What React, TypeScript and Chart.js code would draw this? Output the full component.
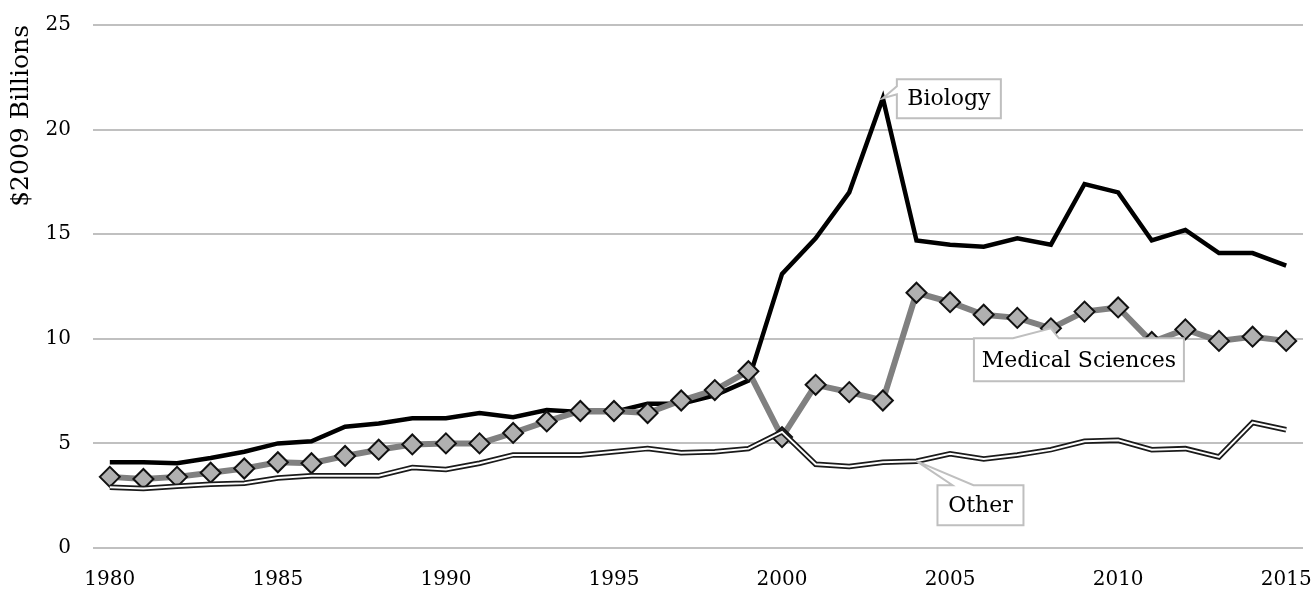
import React, { useEffect, useRef } from "react";
import { Chart, registerables } from "chart.js";

Chart.register(...registerables);

const years: number[] = [];
for (let y = 1980; y <= 2015; y++) years.push(y);

const biology = [
  4.1, 4.1, 4.05, 4.3, 4.6, 5.0, 5.1, 5.8, 5.95, 6.2,
  6.2, 6.45, 6.25, 6.6, 6.5, 6.5, 6.9, 6.9, 7.3, 8.0,
  13.1, 14.8, 17.0, 21.5, 14.7, 14.5, 14.4, 14.8, 14.5, 17.4,
  17.0, 14.7, 15.2, 14.1, 14.1, 13.5,
];

const medical = [
  3.4, 3.3, 3.4, 3.6, 3.8, 4.1, 4.05, 4.4, 4.7, 4.95,
  5.0, 5.0, 5.5, 6.05, 6.55, 6.55, 6.45, 7.05, 7.55, 8.45,
  5.3, 7.8, 7.45, 7.05, 12.2, 11.75, 11.15, 11.0, 10.5, 11.3,
  11.5, 9.85, 10.45, 9.9, 10.1, 9.9,
];

const other = [
  2.9, 2.85, 2.95, 3.05, 3.1, 3.35, 3.45, 3.45, 3.45, 3.85,
  3.75, 4.05, 4.45, 4.45, 4.45, 4.6, 4.75, 4.55, 4.6, 4.75,
  5.55, 4.0, 3.9, 4.1, 4.15, 4.5, 4.25, 4.45, 4.7, 5.1,
  5.15, 4.7, 4.75, 4.35, 6.0, 5.65,
];

const yTicks = [0, 5, 10, 15, 20, 25];

type Callout = {
  text: string;
  series: number[];
  index: number;
  box: { dx: number; dy: number; w: number; h: number };
  side: "left" | "top";
  base: [number, number];
};

const callouts: Callout[] = [
  { text: "Biology", series: biology, index: 23, box: { dx: 14, dy: -19, w: 104, h: 39 }, side: "left", base: [-12, -4] },
  { text: "Medical Sciences", series: medical, index: 28, box: { dx: -77, dy: 10, w: 210, h: 43 }, side: "top", base: [-38, 8] },
  { text: "Other", series: other, index: 24, box: { dx: 21, dy: 24, w: 86, h: 40 }, side: "top", base: [36, 57] },
];

const FONT = "'DejaVu Serif', serif";

const calloutPlugin = {
  id: "callouts",
  afterDatasetsDraw(chart: any) {
    const ctx = chart.ctx as CanvasRenderingContext2D;
    const xs = chart.scales.x;
    const ys = chart.scales.y;
    ctx.save();
    for (const c of callouts) {
      const tx = xs.getPixelForValue(c.index);
      const ty = ys.getPixelForValue(c.series[c.index]);
      const bx = tx + c.box.dx;
      const by = ty + c.box.dy;
      const bw = c.box.w;
      const bh = c.box.h;
      ctx.beginPath();
      if (c.side === "left") {
        const b1 = ty + c.base[0];
        const b2 = ty + c.base[1];
        ctx.moveTo(bx, by);
        ctx.lineTo(bx + bw, by);
        ctx.lineTo(bx + bw, by + bh);
        ctx.lineTo(bx, by + bh);
        ctx.lineTo(bx, b2);
        ctx.lineTo(tx, ty);
        ctx.lineTo(bx, b1);
        ctx.closePath();
      } else {
        const b1 = tx + c.base[0];
        const b2 = tx + c.base[1];
        ctx.moveTo(bx, by);
        ctx.lineTo(b1, by);
        ctx.lineTo(tx, ty);
        ctx.lineTo(b2, by);
        ctx.lineTo(bx + bw, by);
        ctx.lineTo(bx + bw, by + bh);
        ctx.lineTo(bx, by + bh);
        ctx.closePath();
      }
      ctx.fillStyle = "#ffffff";
      ctx.fill();
      ctx.strokeStyle = "#bfbfbf";
      ctx.lineWidth = 2;
      ctx.lineJoin = "miter";
      ctx.stroke();
      ctx.fillStyle = "#000000";
      ctx.font = `22px ${FONT}`;
      ctx.textAlign = "center";
      ctx.textBaseline = "middle";
      ctx.fillText(c.text, bx + bw / 2, by + bh / 2 + 1);
    }
    ctx.restore();
  },
};

export default function App() {
  const ref = useRef<HTMLCanvasElement | null>(null);

  useEffect(() => {
    if (!ref.current) return;
    const chart = new Chart(ref.current, {
      type: "line",
      data: {
        labels: years.map(String),
        datasets: [
          {
            label: "Other inner",
            data: other,
            borderColor: "#ffffff",
            borderWidth: 2,
            pointRadius: 0,
            tension: 0,
            order: 0,
          },
          {
            label: "Other",
            data: other,
            borderColor: "#1a1a1a",
            borderWidth: 5.5,
            pointRadius: 0,
            tension: 0,
            order: 1,
          },
          {
            label: "Medical Sciences",
            data: medical,
            borderColor: "#808080",
            borderWidth: 6,
            pointStyle: "rectRot",
            pointRadius: 10,
            pointBackgroundColor: "#b0b0b0",
            pointBorderColor: "#111111",
            pointBorderWidth: 2,
            tension: 0,
            order: 2,
          },
          {
            label: "Biology",
            data: biology,
            borderColor: "#000000",
            borderWidth: 4.5,
            pointRadius: 0,
            tension: 0,
            borderJoinStyle: "miter",
            order: 3,
          },
        ],
      },
      options: {
        animation: false,
        responsive: true,
        maintainAspectRatio: false,
        layout: { padding: { left: 0, right: 12, top: 25, bottom: 0 } },
        plugins: {
          legend: { display: false },
          tooltip: { enabled: false },
        },
        scales: {
          x: {
            type: "category",
            offset: true,
            grid: { display: false, drawTicks: false },
            border: { display: false },
            ticks: {
              autoSkip: false,
              maxRotation: 0,
              padding: 20,
              color: "#000000",
              font: { family: FONT, size: 20 },
              callback: (_v: any, i: number) => (years[i] % 5 === 0 ? String(years[i]) : null),
            },
            afterFit: (s: any) => {
              s.height = 45;
              s.paddingLeft = 0;
              s.paddingRight = 0;
            },
          },
          y: {
            min: yTicks[0],
            max: yTicks[yTicks.length - 1],
            afterBuildTicks: (s: any) => {
              s.ticks = yTicks.map((v) => ({ value: v }));
            },
            grid: { color: "#c0c0c0", lineWidth: 2, drawTicks: false },
            border: { display: false },
            ticks: {
              padding: 22,
              color: "#000000",
              font: { family: FONT, size: 20 },
            },
            title: {
              display: true,
              text: "$2009 Billions",
              align: "end",
              color: "#000000",
              font: { family: FONT, size: 25 },
              padding: { top: 6, bottom: 4 },
            },
            afterFit: (s: any) => {
              s.width = 93;
              s.paddingTop = 0;
              s.paddingBottom = 0;
            },
          },
        },
      },
      plugins: [calloutPlugin],
    } as any);
    return () => chart.destroy();
  }, []);

  return (
    <div style={{ position: "absolute", left: 0, top: 0, width: 1315, height: 593, background: "#fff" }}>
      <canvas ref={ref} />
    </div>
  );
}
